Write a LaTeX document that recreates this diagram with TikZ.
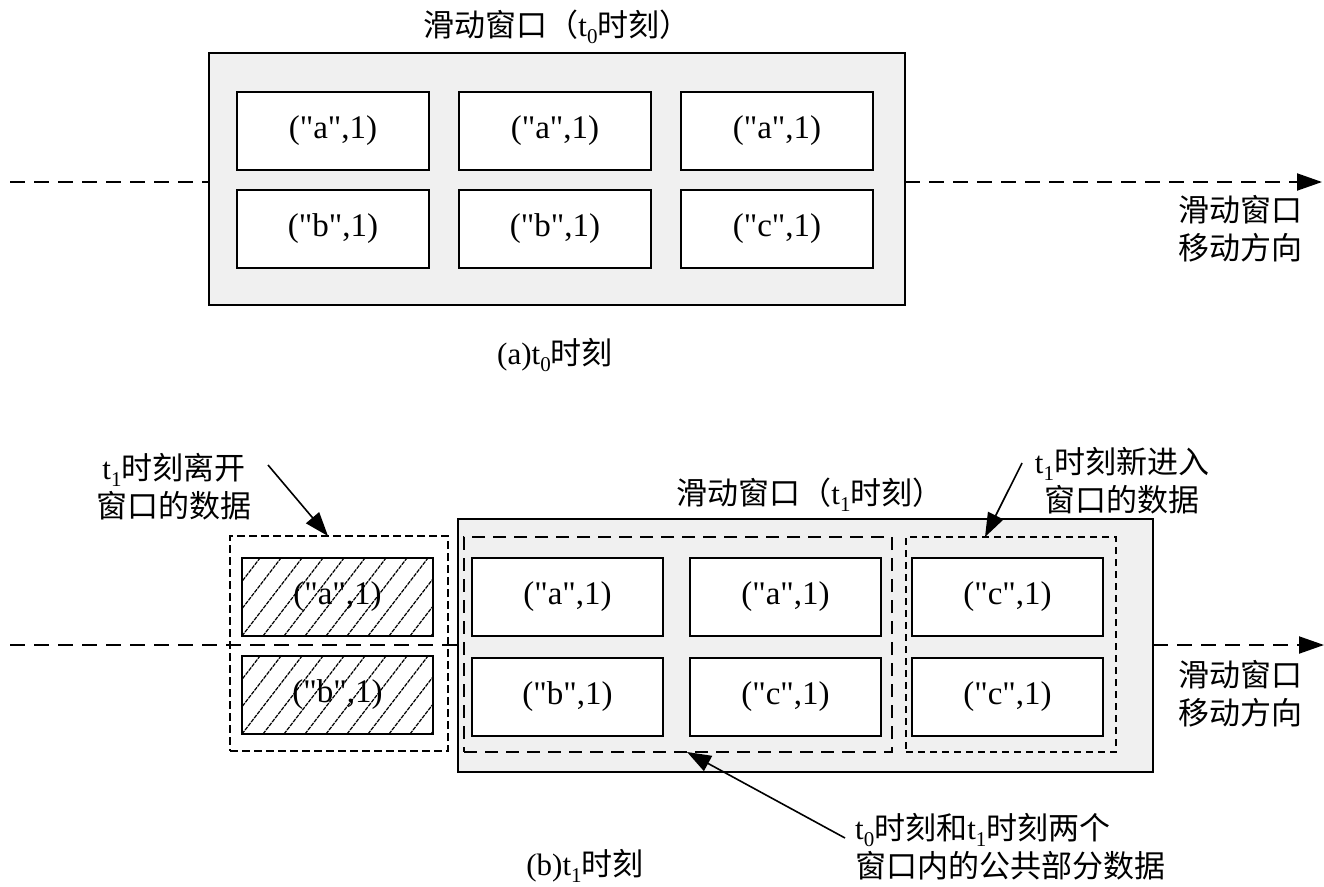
\documentclass[tikz,border=0pt]{standalone}
\usepackage{fontspec}
\setmainfont{Liberation Serif}[Ligatures=TeXOff]
\newfontfamily\cjk{Noto Sans CJK SC}
\usetikzlibrary{arrows.meta}
\newcommand\subx[1]{\raisebox{-0.22em}{\fontsize{21}{21}\selectfont #1}}
\begin{document}
\begin{tikzpicture}[x=1pt,y=-1pt,
  font=\fontsize{31}{38}\selectfont,
  win/.style={draw, line width=1.6pt, fill=black!6, inner sep=0pt, outer sep=0pt},
  item/.style={draw, line width=1.6pt, fill=white, minimum width=192pt, minimum height=78pt, inner sep=0pt, outer sep=0pt, font=\fontsize{33}{38}\selectfont},
  grp/.style={draw, line width=1.6pt, inner sep=0pt, outer sep=0pt},
  mainline/.style={line width=2pt, dash pattern=on 15pt off 9pt},
  bigtip/.style={-{Triangle[length=25pt,width=17pt]}},
  conn/.style={line width=1.6pt, -{Triangle[length=24pt,width=17pt]}},
  txt/.style={inner sep=0pt, align=center},
  hatch/.style={line width=1.2pt, dash pattern=on 4pt off 1pt}
]
\useasboundingbox (0,0) rectangle (1324,886);

% ---------- (a) ----------
\node[win, minimum width=696pt, minimum height=252pt] (bigA) at (557,179) {};
\node[item] (a11) at (333,131) {("a",1)};
\node[item] (a12) at (555,131) {("a",1)};
\node[item] (a13) at (777,131) {("a",1)};
\node[item] (a21) at (333,229) {("b",1)};
\node[item] (a22) at (555,229) {("b",1)};
\node[item] (a23) at (777,229) {("c",1)};

\coordinate (tl) at (10,182);
\coordinate (tr) at (1322,182);
\draw[mainline] (tl) -- (tl -| bigA.west);
\draw[mainline, bigtip] (tr -| bigA.east) -- (tr);

\node[txt] (titleA) at (557,27) {{\cjk 滑动窗口（}t\subx{0}{\cjk 时刻）}};
\node[txt] (capA) at (555,355) {(a)t\subx{0}{\cjk 时刻}};
\node[txt] (dirA) at (1240,229) {{\cjk 滑动窗口}\\{\cjk 移动方向}};

% ---------- (b) ----------
\node[win, minimum width=695pt, minimum height=253pt] (bigB) at (805.5,645.5) {};
\node[grp, dash pattern=on 13pt off 8pt, minimum width=428pt, minimum height=215pt] (lg) at (678,644.5) {};
\node[grp, dash pattern=on 7pt off 5pt, minimum width=210pt, minimum height=215pt] (rg) at (1011,644.5) {};
\node[grp, dash pattern=on 8pt off 4pt, minimum width=218pt, minimum height=215pt] (hg) at (339,643.5) {};

\node[item, minimum width=191pt] (b11) at (567.5,597) {("a",1)};
\node[item, minimum width=191pt] (b12) at (785.5,597) {("a",1)};
\node[item, minimum width=191pt] (b13) at (1007.5,597) {("c",1)};
\node[item, minimum width=191pt] (b21) at (567.5,697) {("b",1)};
\node[item, minimum width=191pt] (b22) at (785.5,697) {("c",1)};
\node[item, minimum width=191pt] (b23) at (1007.5,697) {("c",1)};

\node[item, minimum width=191pt] (h1) at (337.5,597) {("a",1)};
\node[item, minimum width=191pt] (h2) at (337.5,695) {("b",1)};
\foreach \h in {h1,h2}{
  \begin{scope}
    \clip (\h.south west) rectangle (\h.north east);
    \foreach \k in {-4,...,10}
      \draw[hatch] ([xshift=\k*21pt]\h.south west) -- ++(60,-78);
  \end{scope}
  \draw[line width=1.6pt] (\h.south west) rectangle (\h.north east);
}

\coordinate (bl) at (10,645);
\coordinate (br) at (1324,645);
\draw[mainline] (bl) -- (bl -| bigB.west);
\draw[mainline, bigtip] (br -| bigB.east) -- (br);

\node[txt] (titleB) at (810,495) {{\cjk 滑动窗口（}t\subx{1}{\cjk 时刻）}};
\node[txt] (capB) at (585,866) {(b)t\subx{1}{\cjk 时刻}};
\node[txt] (dirB) at (1240,694) {{\cjk 滑动窗口}\\{\cjk 移动方向}};

\node[txt] (leave) at (174,487) {t\subx{1}{\cjk 时刻离开}\\{\cjk 窗口的数据}};
\node[txt] (enter) at (1122,481) {t\subx{1}{\cjk 时刻新进入}\\{\cjk 窗口的数据}};
\node[txt, align=left, anchor=west] (common) at (855,847) {t\subx{0}{\cjk 时刻和}t\subx{1}{\cjk 时刻两个}\\{\cjk 窗口内的公共部分数据}};

\coordinate (s1) at (268,465);
\coordinate (s2) at (1022,463);
\coordinate (s3) at (845,838);
\draw[conn] (s1) -- ([xshift=-11pt]hg.north);
\draw[conn] (s2) -- ([xshift=-26pt]rg.north);
\draw[conn] (s3) -- ([xshift=9pt]lg.south);
\end{tikzpicture}
\end{document}
